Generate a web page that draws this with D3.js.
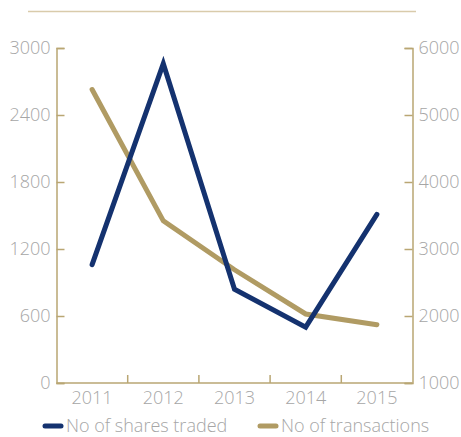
<!DOCTYPE html>
<html>
<head>
<meta charset="utf-8">
<script src="https://d3js.org/d3.v7.min.js"></script>
<style>
  body { margin: 0; background: #fff; }
  svg text { font-family: "Open Sans", sans-serif; font-weight: 300; fill: #a6a6a6; }
</style>
</head>
<body>
<svg id="chart" width="461" height="437"></svg>
<script>
var years = ["2011", "2012", "2013", "2014", "2015"];
var sharesTraded = [1060, 2860, 840, 500, 1510];
var transactions = [5380, 3420, 2690, 2030, 1870];
var leftTicks = [0, 600, 1200, 1800, 2400, 3000];
var rightTicks = [1000, 2000, 3000, 4000, 5000, 6000];
var seriesNames = ["No of shares traded", "No of transactions"];

var blue = "#14326f", gold = "#b09b63", axisColor = "#b9a673";

var svg = d3.select("#chart");
// plot box (note: "top" is reserved on window, so prefixed names)
var plotLeft = 56.5, plotRight = 412.5, plotTop = 48, plotBottom = 383;

// header rule
svg.append("line")
    .attr("x1", 28).attr("x2", 416).attr("y1", 11.5).attr("y2", 11.5)
    .attr("stroke", "#d9cbab").attr("stroke-width", 1.5);

var x = d3.scaleBand().domain(years).range([plotLeft, plotRight]);
var yL = d3.scaleLinear().domain([0, 3000]).range([plotBottom, plotTop]);
var yR = d3.scaleLinear().domain([1000, 6000]).range([plotBottom, plotTop]);

function styleAxis(g) {
    g.select(".domain").attr("stroke", axisColor).attr("stroke-width", 1.5);
    g.selectAll(".tick line").attr("stroke", axisColor).attr("stroke-width", 1.5);
    g.selectAll(".tick text").attr("font-size", 18).attr("fill", "#a6a6a6");
}

// left axis, ticks pointing inside
svg.append("g").attr("transform", "translate(" + plotLeft + ",0)")
    .call(d3.axisLeft(yL).tickValues(leftTicks).tickFormat(d3.format("d"))
        .tickSizeInner(-8).tickSizeOuter(-8).tickPadding(6))
    .call(styleAxis);

// right axis
svg.append("g").attr("transform", "translate(" + plotRight + ",0)")
    .call(d3.axisRight(yR).tickValues(rightTicks).tickFormat(d3.format("d"))
        .tickSizeInner(-8).tickSizeOuter(-8).tickPadding(6))
    .call(styleAxis);

// bottom axis: ticks at band boundaries
var xAxis = svg.append("g").attr("transform", "translate(0," + plotBottom + ")");
xAxis.append("line").attr("x1", plotLeft).attr("x2", plotRight)
    .attr("stroke", axisColor).attr("stroke-width", 1.5);
xAxis.selectAll("line.sep").data(years.slice(1)).enter().append("line")
    .attr("class", "sep")
    .attr("x1", d => x(d)).attr("x2", d => x(d))
    .attr("y1", 0).attr("y2", -8)
    .attr("stroke", axisColor).attr("stroke-width", 1.5);
xAxis.selectAll("text").data(years).enter().append("text")
    .attr("x", d => x(d) + x.bandwidth() / 2)
    .attr("y", 21)
    .attr("text-anchor", "middle")
    .attr("font-size", 18)
    .text(d => d);

var cx = d => x(d) + x.bandwidth() / 2;

svg.append("path")
    .datum(transactions)
    .attr("fill", "none").attr("stroke", gold).attr("stroke-width", 5)
    .attr("stroke-linecap", "round")
    .attr("d", d3.line().x((d, i) => cx(years[i])).y(d => yR(d)));

svg.append("path")
    .datum(sharesTraded)
    .attr("fill", "none").attr("stroke", blue).attr("stroke-width", 5)
    .attr("stroke-linecap", "round")
    .attr("d", d3.line().x((d, i) => cx(years[i])).y(d => yL(d)));

// legend
var legend = [
    { name: seriesNames[0], color: blue, x: 45 },
    { name: seriesNames[1], color: gold, x: 260 }
];
var lg = svg.selectAll("g.legend").data(legend).enter().append("g")
    .attr("class", "legend")
    .attr("transform", d => "translate(" + d.x + ",426)");
lg.append("line").attr("x1", 0).attr("x2", 16).attr("y1", 0).attr("y2", 0)
    .attr("stroke", d => d.color).attr("stroke-width", 5).attr("stroke-linecap", "round");
lg.append("text").attr("x", 21).attr("y", 0).attr("dy", "0.35em")
    .attr("font-size", 18).text(d => d.name);
</script>
</body>
</html>
